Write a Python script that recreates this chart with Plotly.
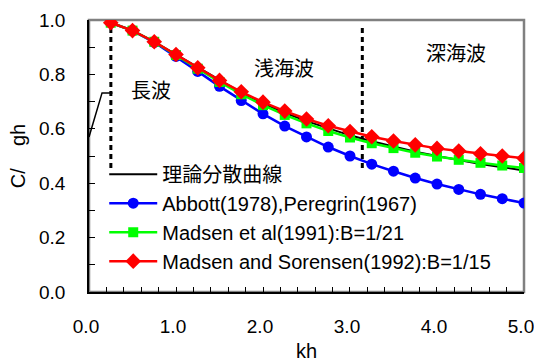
import plotly.graph_objects as go

kh = [0.25, 0.5, 0.75, 1.0, 1.25, 1.5, 1.75, 2.0, 2.25, 2.5,
      2.75, 3.0, 3.25, 3.5, 3.75, 4.0, 4.25, 4.5, 4.75, 5.0]
theory = [0.990, 0.961, 0.920, 0.873, 0.824, 0.777, 0.733, 0.694, 0.659, 0.628,
          0.601, 0.576, 0.554, 0.534, 0.516, 0.500, 0.485, 0.471, 0.459, 0.447]
abbott = [0.990, 0.961, 0.918, 0.866, 0.811, 0.756, 0.704, 0.655, 0.610, 0.570,
          0.533, 0.500, 0.470, 0.444, 0.419, 0.397, 0.377, 0.359, 0.343, 0.327]
madsen91 = [0.990, 0.961, 0.920, 0.871, 0.821, 0.772, 0.727, 0.687, 0.651, 0.620,
            0.592, 0.568, 0.547, 0.529, 0.512, 0.498, 0.486, 0.475, 0.465, 0.456]
madsen92 = [0.990, 0.961, 0.920, 0.873, 0.824, 0.778, 0.736, 0.698, 0.665, 0.636,
            0.611, 0.590, 0.571, 0.555, 0.541, 0.528, 0.518, 0.508, 0.500, 0.492]

names = ["理論分散曲線", "Abbott(1978),Peregrin(1967)",
         "Madsen et al(1991):B=1/21", "Madsen and Sorensen(1992):B=1/15"]

region_x = [0.2513, 3.1416]
region_y = [0.456, 0.975]
region_labels = ["長波", "浅海波", "深海波"]
region_label_x = [0.71, 2.24, 4.22]
region_label_y = [0.743, 0.827, 0.879]
leader_x = [0.0, 0.15, 0.27]
leader_y = [0.57, 0.732, 0.732]

LAT = "Arial, Liberation Sans, Noto Sans CJK JP, sans-serif"
CJK = "Noto Sans CJK JP, Arial, sans-serif"

fig = go.Figure()

# dashed region boundaries
for xv in region_x:
    fig.add_trace(go.Scatter(x=[xv, xv], y=region_y, mode="lines",
                             line=dict(color="black", width=3, dash="5px,4px"),
                             showlegend=False, hoverinfo="skip"))
# leader line
fig.add_trace(go.Scatter(x=leader_x, y=leader_y, mode="lines",
                         line=dict(color="black", width=1.5),
                         showlegend=False, hoverinfo="skip", cliponaxis=False))

fig.add_trace(go.Scatter(x=kh, y=theory, mode="lines", name=names[0],
                         legendgroup="a",
                         line=dict(color="black", width=2)))
fig.add_trace(go.Scatter(x=kh, y=abbott, mode="lines+markers", name=names[1],
                         legendgroup="b",
                         line=dict(color="#0000FF", width=2.5),
                         marker=dict(symbol="circle", size=11, color="#0000FF")))
fig.add_trace(go.Scatter(x=kh, y=madsen91, mode="lines+markers", name=names[2],
                         legendgroup="c",
                         line=dict(color="#00FF00", width=2.5),
                         marker=dict(symbol="square", size=10, color="#00FF00")))
fig.add_trace(go.Scatter(x=kh, y=madsen92, mode="lines+markers", name=names[3],
                         legendgroup="d",
                         line=dict(color="#FF0000", width=2.5),
                         marker=dict(symbol="diamond", size=12, color="#FF0000")))

for t, xv, yv in zip(region_labels, region_label_x, region_label_y):
    fig.add_annotation(x=xv, y=yv, text=t, showarrow=False,
                       font=dict(family=CJK, size=20, color="black"))

# plot area frame (gray top/right)
fig.add_shape(type="rect", xref="paper", yref="paper", x0=0, x1=1, y0=0, y1=1,
              line=dict(color="#808080", width=2.5), layer="below")

fig.update_layout(
    width=534, height=362,
    margin=dict(l=89, r=10, t=20, b=70, autoexpand=False),
    paper_bgcolor="white", plot_bgcolor="white",
    font=dict(family=LAT, size=20, color="black"),
    showlegend=True,
    legend=dict(x=0.035, y=0.505, xanchor="left", yanchor="top",
                bgcolor="rgba(0,0,0,0)", borderwidth=0,
                itemwidth=48,
                traceorder="grouped", tracegroupgap=0,
                font=dict(family=LAT, size=20, color="black")),
    xaxis=dict(range=[0, 5.0001], dtick=1.0, tickformat=".1f",
               automargin=False, ticklabeloverflow="allow",
               tickfont=dict(size=19), ticklabelshift=-3,
               showgrid=False, zeroline=False,
               showline=True, linecolor="black", linewidth=1.5,
               ticks="inside", ticklen=5, tickcolor="black",
               minor=dict(dtick=0.2, ticks="inside", ticklen=5, tickcolor="black"),
               ticklabelstandoff=16,
               title=dict(text="kh", standoff=16, font=dict(size=20))),
    yaxis=dict(range=[0, 1.0], dtick=0.2, tickformat=".1f",
               automargin=False, ticklabeloverflow="allow",
               tickfont=dict(size=19),
               showgrid=False, zeroline=False,
               showline=True, linecolor="black", linewidth=1.5,
               ticks="inside", ticklen=6, tickcolor="black",
               minor=dict(dtick=0.1, ticks="inside", ticklen=6, tickcolor="black"),
               ticklabelstandoff=18,
               title=dict(text="C/    gh", standoff=8, font=dict(size=20))),
)

fig.write_html("out.html")
